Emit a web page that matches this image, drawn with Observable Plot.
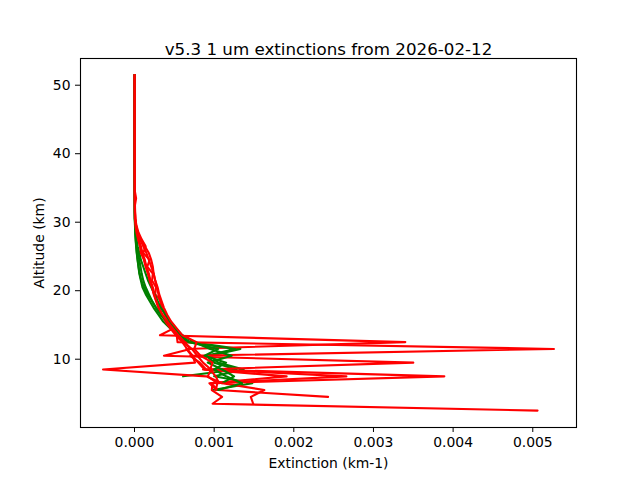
<!DOCTYPE html>
<html>
<head>
<meta charset="utf-8">
<script src="https://cdn.jsdelivr.net/npm/d3@7"></script>
<script src="https://cdn.jsdelivr.net/npm/@observablehq/plot@0.6"></script>
<style>
  html, body { margin: 0; padding: 0; background: white; }
  #chart { width: 640px; height: 480px; }
</style>
</head>
<body>
<div id="chart"></div>
<script>
// Altitude grid (km), top to bottom
const altitudes = [51.5,50.5,49.5,48.5,47.5,46.5,45.5,44.5,43.5,42.5,41.5,40.5,39.5,38.5,37.5,36.5,35.5,34.5,33.5,32.5,31.5,
  30.5,29.5,28.5,27.5,26.5,25.5,24.5,23.5,22.5,21.5,20.5,19.5,18.5,17.5,16.5,15.5,14.5,13.5,12.5,11.5,10.5,9.5,8.5,7.5,6.5,5.5,4.5,3.5,2.5];

// Extinction values in units of 1e-4 km-1, listed from 51.5 km downward
const red1 = [0.02,0.01,0.01,0.02,0.01,0.01,0.02,0.02,0.01,0.02,0.02,0.02,0.03,0.02,0.02,0.03,0.03,0.04,0.04,0.05,0.06,
  0.1,0.2,0.4,0.8,1.3,1.8,2.1,2.3,2.4,2.6,2.8,3.0,3.2,3.5,3.8,4.3,4.9,3.2,34.0,6.5,7.2,8.0,8.8,38.9,9.8,9.7,11.0,9.8,50.6];
const red2 = [0.01,0.01,0.02,0.01,0.01,0.02,0.01,0.02,0.02,0.01,0.02,0.03,0.02,0.02,0.03,0.02,0.03,0.03,0.04,0.04,0.05,
  0.08,0.15,0.3,0.5,0.8,1.0,1.3,1.5,1.8,2.0,2.3,2.5,2.8,3.1,3.5,4.0,4.6,5.3,5.4,52.66,7.0,8.2,9.0,26.6,9.6,10.5,24.3];
const red3 = [0.02,0.02,0.01,0.01,0.02,0.02,0.02,0.01,0.02,0.02,0.03,0.02,0.02,0.03,0.03,0.03,0.04,0.05,0.2,0.06,0.07,
  0.1,0.25,0.5,0.9,1.4,1.1,1.9,1.6,2.3,2.2,2.7,2.6,3.3,3.4,4.0,4.4,5.0,5.6,6.3,7.0,3.7,35.0,8.6,19.1,9.4,10.3];
const red4 = [0.01,0.02,0.02,0.01,0.02,0.01,0.01,0.02,0.02,0.02,0.01,0.02,0.02,0.02,0.03,0.03,0.03,0.03,0.04,0.04,0.04,
  0.05,0.15,0.3,0.5,0.7,0.8,1.2,1.4,1.7,1.9,2.2,2.4,2.7,3.0,3.4,3.9,4.5,5.2,6.0,6.6,7.3,7.6,-3.95,9.0,11.0,16.3,14.6,14.9];
const red5 = [0.02,0.01,0.02,0.02,0.02,0.01,0.02,0.01,0.02,0.03,0.02,0.02,0.03,0.03,0.02,0.03,0.04,0.04,0.05,0.05,0.07,
  0.1,0.2,0.4,0.7,1.1,1.5,1.8,2.1,2.4,2.6,2.9,3.1,3.4,3.7,4.1,4.6,5.3,6.0,7.8,7.5,8.3,9.8,9.5,10.2,10.6];
const red6 = [0.01,0.01,0.01,0.02,0.02,0.02,0.01,0.01,0.02,0.02,0.02,0.02,0.02,0.03,0.02,0.03,0.03,0.03,0.04,0.05,0.05,
  0.06,0.12,0.25,0.45,0.7,0.95,1.2,1.45,1.7,1.95,2.2,2.45,2.75,3.05,3.5,4.1,4.8,5.5,6.2,7.2,7.9,8.6,9.6,9.2,10.4,10.2];
const green1 = [0.02,0.01,0.02,0.01,0.01,0.01,0.02,0.01,0.01,0.02,0.01,0.02,0.02,0.02,0.02,0.02,0.03,0.03,0.03,0.03,0.03,
  0.04,0.07,0.1,0.15,0.22,0.3,0.4,0.5,0.6,0.8,1.0,1.4,1.9,2.4,3.0,3.6,4.5,5.5,7.0,13.3,9.5,10.5,13.7,10.0,14.8,9.8];
const green2 = [0.01,0.01,0.01,0.02,0.01,0.02,0.01,0.01,0.02,0.01,0.02,0.02,0.02,0.02,0.03,0.02,0.03,0.03,0.03,0.04,0.04,
  0.05,0.08,0.12,0.2,0.3,0.45,0.6,0.75,0.9,1.1,1.4,1.8,2.2,2.7,3.3,4.0,4.8,5.6,6.5,12.6,9.0,10.0,12.8,6.1];
const green3 = [0.01,0.02,0.01,0.01,0.02,0.01,0.02,0.02,0.01,0.02,0.02,0.02,0.03,0.02,0.03,0.03,0.03,0.03,0.04,0.04,0.04,
  0.05,0.1,0.15,0.25,0.4,0.6,0.8,1.1,1.4,1.7,2.1,2.5,2.9,3.3,3.9,4.5,5.2,6.0,7.5,9.5,12.2,9.2,11.0,12.5,11.0];
const green4 = [0.01,0.01,0.01,0.01,0.02,0.01,0.01,0.01,0.02,0.02,0.01,0.02,0.02,0.02,0.02,0.02,0.02,0.03,0.03,0.03,0.03,
  0.04,0.06,0.1,0.14,0.2,0.28,0.38,0.5,0.65,0.85,1.2,1.6,2.2,2.7,3.3,4.1,5.0,5.8,6.8,10.5,8.8,11.5,10.0,11.5,13.5,10.5];

const xTicks = [0, 0.001, 0.002, 0.003, 0.004, 0.005];
const yTicks = [10, 20, 30, 40, 50];
const titleText = "v5.3 1 um extinctions from 2026-02-12";

// Drawing order (interleaved as in the original)
const profiles = [
  {values: green1, color: "#008000"},
  {values: red1, color: "#ff0000"},
  {values: green2, color: "#008000"},
  {values: red2, color: "#ff0000"},
  {values: red3, color: "#ff0000"},
  {values: green3, color: "#008000"},
  {values: red4, color: "#ff0000"},
  {values: green4, color: "#008000"},
  {values: red5, color: "#ff0000"},
  {values: red6, color: "#ff0000"}
];

const toRows = vals => vals.map((v, i) => ({alt: altitudes[i], ext: v * 1e-4}));

const lineMarks = profiles.map(p =>
  Plot.line(toRows(p.values), {x: "ext", y: "alt", stroke: p.color, strokeWidth: 2.1, strokeLinejoin: "round"})
);

const chart = Plot.plot({
  width: 640,
  height: 480,
  marginLeft: 80,
  marginRight: 64,
  marginTop: 58,
  marginBottom: 53,
  style: {fontFamily: "DejaVu Sans", fontSize: "13.9px", background: "white", color: "black"},
  x: {domain: [-0.000678, 0.005549]},
  y: {domain: [0.03, 53.9]},
  marks: [
    ...lineMarks,
    Plot.frame({stroke: "black", strokeWidth: 1.1}),
    Plot.axisX({ticks: xTicks, tickFormat: d3.format(".3f"), tickSize: 5, tickPadding: 5,
      label: "Extinction (km-1)", labelAnchor: "center", labelArrow: "none", labelOffset: 40, fontSize: 13.9}),
    Plot.axisY({ticks: yTicks, tickFormat: d3.format("d"), tickSize: 5, tickPadding: 5,
      label: "Altitude (km)", labelAnchor: "center", labelArrow: "none", labelOffset: 46, fontSize: 13.9}),
    Plot.text([titleText], {frameAnchor: "top", dy: -15, text: d => d, fontSize: 16.7, fill: "black"})
  ]
});
document.getElementById("chart").appendChild(chart);
</script>
</body>
</html>
